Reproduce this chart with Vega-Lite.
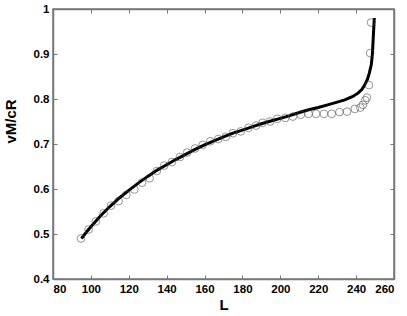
{
  "$schema": "https://vega.github.io/schema/vega-lite/v6.json",
  "width": 341,
  "height": 270,
  "autosize": {"type": "none"},
  "padding": {"left": 53, "top": 9, "right": 13, "bottom": 37},
  "config": {
    "view": {"stroke": "#777", "strokeWidth": 1.5},
    "axis": {
      "grid": false,
      "domainColor": "#777",
      "domainWidth": 1.5,
      "tickColor": "#777",
      "tickSize": -4,
      "labelFont": "Liberation Sans",
      "labelFontWeight": "bold",
      "labelFontSize": 11.5,
      "labelColor": "#000",
      "titleFont": "Liberation Sans",
      "titleFontWeight": "bold",
      "titleFontSize": 15,
      "titleColor": "#000"
    }
  },
  "datasets": {
    "sim": [
      {"L": 94.8, "v": 0.490}, {"L": 98.8, "v": 0.510}, {"L": 102.6, "v": 0.528},
      {"L": 106.7, "v": 0.546}, {"L": 110.6, "v": 0.563}, {"L": 114.6, "v": 0.573},
      {"L": 118.7, "v": 0.587}, {"L": 122.9, "v": 0.599}, {"L": 127.0, "v": 0.614},
      {"L": 131.0, "v": 0.624}, {"L": 134.8, "v": 0.640}, {"L": 138.7, "v": 0.652},
      {"L": 142.8, "v": 0.660}, {"L": 147.0, "v": 0.671}, {"L": 150.8, "v": 0.681},
      {"L": 155.0, "v": 0.690}, {"L": 159.0, "v": 0.698}, {"L": 163.0, "v": 0.706},
      {"L": 167.2, "v": 0.711}, {"L": 171.2, "v": 0.716}, {"L": 175.0, "v": 0.724},
      {"L": 179.1, "v": 0.728}, {"L": 183.2, "v": 0.736}, {"L": 187.2, "v": 0.741},
      {"L": 190.6, "v": 0.747}, {"L": 194.6, "v": 0.750}, {"L": 198.4, "v": 0.756},
      {"L": 202.6, "v": 0.758}, {"L": 206.6, "v": 0.761}, {"L": 210.8, "v": 0.765},
      {"L": 214.9, "v": 0.767}, {"L": 218.9, "v": 0.767}, {"L": 223.0, "v": 0.767},
      {"L": 227.1, "v": 0.767}, {"L": 231.2, "v": 0.771}, {"L": 235.2, "v": 0.772},
      {"L": 239.3, "v": 0.778}, {"L": 242.2, "v": 0.781}, {"L": 243.6, "v": 0.787},
      {"L": 244.8, "v": 0.797}, {"L": 245.7, "v": 0.803}, {"L": 246.8, "v": 0.831},
      {"L": 247.4, "v": 0.902}, {"L": 247.9, "v": 0.970}
    ],
    "theory": [
      {"L": 95, "v": 0.490}, {"L": 98, "v": 0.506}, {"L": 100, "v": 0.516},
      {"L": 105, "v": 0.540}, {"L": 110, "v": 0.561}, {"L": 115, "v": 0.580},
      {"L": 120, "v": 0.597}, {"L": 125, "v": 0.613}, {"L": 130, "v": 0.628},
      {"L": 135, "v": 0.642}, {"L": 140, "v": 0.654}, {"L": 145, "v": 0.666},
      {"L": 150, "v": 0.677}, {"L": 155, "v": 0.688}, {"L": 160, "v": 0.698},
      {"L": 165, "v": 0.707}, {"L": 170, "v": 0.716}, {"L": 175, "v": 0.724},
      {"L": 180, "v": 0.731}, {"L": 185, "v": 0.738}, {"L": 190, "v": 0.745},
      {"L": 195, "v": 0.751}, {"L": 200, "v": 0.757}, {"L": 205, "v": 0.763},
      {"L": 210, "v": 0.770}, {"L": 215, "v": 0.776}, {"L": 220, "v": 0.781},
      {"L": 225, "v": 0.787}, {"L": 230, "v": 0.793}, {"L": 234, "v": 0.798},
      {"L": 238, "v": 0.805}, {"L": 241, "v": 0.813}, {"L": 243, "v": 0.821},
      {"L": 244.5, "v": 0.831}, {"L": 246, "v": 0.844}, {"L": 247, "v": 0.858},
      {"L": 248, "v": 0.876}, {"L": 248.6, "v": 0.900}, {"L": 249.1, "v": 0.940},
      {"L": 249.6, "v": 0.980}
    ]
  },
  "layer": [
    {
      "data": {"name": "theory"},
      "mark": {"type": "line", "color": "#000", "strokeWidth": 3},
      "encoding": {
        "x": {"field": "L", "type": "quantitative", "scale": {"domain": [80, 260], "nice": false},
              "axis": {"orient": "bottom", "title": "L", "values": [80,100,120,140,160,180,200,220,240,260], "labelPadding": 8, "titlePadding": 3}},
        "y": {"field": "v", "type": "quantitative", "scale": {"domain": [0.4, 1], "nice": false, "zero": false},
              "axis": {"orient": "left", "title": "vM/cR", "values": [0.4,0.5,0.6,0.7,0.8,0.9,1], "labelExpr": "datum.value == 1 ? '1' : format(datum.value, '.1f')", "labelPadding": 8, "titleX": -35, "titleY": 112}}
      }
    },
    {
      "data": {"name": "sim"},
      "mark": {"type": "point", "shape": "circle", "filled": false, "stroke": "#444", "strokeWidth": 0.8, "size": 60},
      "encoding": {
        "x": {"field": "L", "type": "quantitative", "scale": {"domain": [80, 260], "nice": false},
              "axis": {"orient": "top", "title": null, "labels": false, "values": [80,100,120,140,160,180,200,220,240,260]}},
        "y": {"field": "v", "type": "quantitative", "scale": {"domain": [0.4, 1], "nice": false, "zero": false},
              "axis": {"orient": "right", "title": null, "labels": false, "values": [0.4,0.5,0.6,0.7,0.8,0.9,1]}}
      }
    }
  ],
  "resolve": {"axis": {"x": "independent", "y": "independent"}}
}
